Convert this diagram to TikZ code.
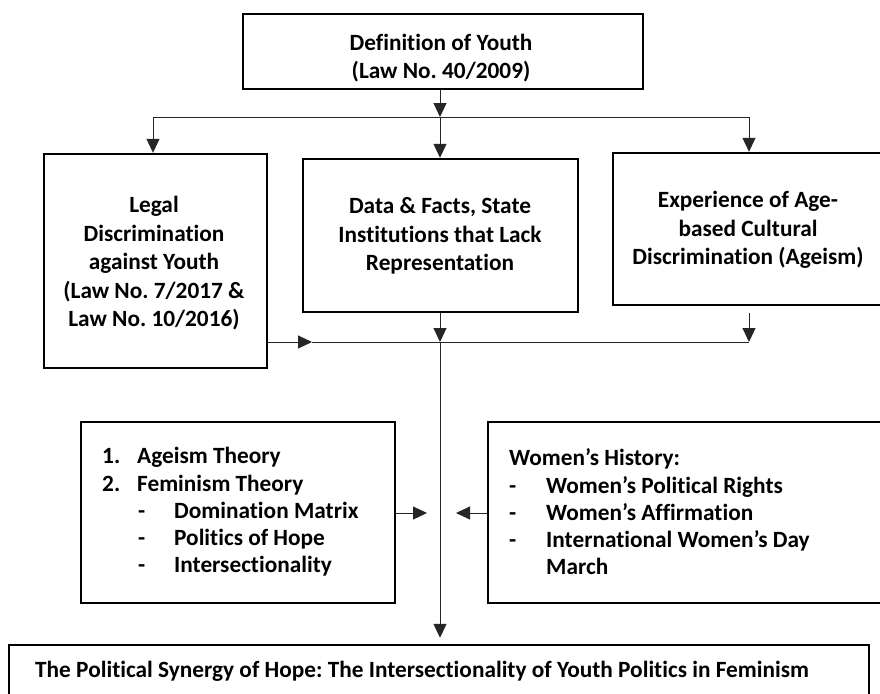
\documentclass[tikz,border=0pt]{standalone}
\usepackage{fontspec}
\setmainfont{Carlito}[Ligatures={TeX,NoCommon}]
\usetikzlibrary{arrows.meta}
\frenchspacing
\begin{document}
\begin{tikzpicture}[x=1pt,y=-1pt,
  box/.style={draw=black, line width=2.4pt, inner sep=0pt},
  txt/.style={font=\bfseries\fontsize{23.3}{28.5}\selectfont, align=center, inner sep=0pt},
  lst/.style={font=\bfseries\fontsize{23.3}{27.3}\selectfont, align=left, anchor=west, inner sep=0pt},
  conn/.style={draw=black!85, line width=1pt},
  arr/.style={conn, -{Triangle[length=14pt,width=13pt]}}]
\useasboundingbox (0,0) rectangle (880,693);
\clip (0,0) rectangle (880,693);
% boxes
\node[box, minimum width=400pt, minimum height=75pt] (top) at (443,51.5) {};
\node[box, minimum width=223pt, minimum height=214pt] (legal) at (155.5,261) {};
\node[box, minimum width=275pt, minimum height=153pt] (data) at (440.5,235.5) {};
\node[box, minimum width=271pt, minimum height=152pt] (exp) at (748.5,229) {};
\node[box, minimum width=314pt, minimum height=181pt] (theory) at (238,512.5) {};
\node[box, minimum width=404pt, minimum height=181pt] (women) at (690,512.5) {};
\node[box, minimum width=860pt, minimum height=75pt] (bottom) at (439,682.5) {};
% texts
\node[txt] (toptxt) at (441,58) {Definition of Youth\\(Law No. 40/2009)};
\node[txt] (legaltxt) at (154,263.5) {Legal\\Discrimination\\against Youth\\(Law No. 7/2017 \&\\Law No. 10/2016)};
\node[txt] (datatxt) at (440,236) {Data \& Facts, State\\Institutions that Lack\\Representation};
\node[txt] (exptxt) at (748,230) {Experience of Age-\\based Cultural\\Discrimination (Ageism)};
\node[lst] (theorytxt) at (102,512) {\makebox[35pt][l]{1.}Ageism Theory\\
\makebox[35pt][l]{2.}Feminism Theory\\
\hspace*{36pt}\makebox[36pt][l]{-}Domination Matrix\\
\hspace*{36pt}\makebox[36pt][l]{-}Politics of Hope\\
\hspace*{36pt}\makebox[36pt][l]{-}Intersectionality};
\node[lst] (womentxt) at (509,512) {Women’s History:\\
\makebox[37pt][l]{-}Women’s Political Rights\\
\makebox[37pt][l]{-}Women’s Affirmation\\
\makebox[37pt][l]{-}International Women’s Day\\
\hspace*{37pt}March};
\node[lst] (bottomtxt) at (35,671) {The Political Synergy of Hope: The Intersectionality of Youth Politics in Feminism};
% junctions
\coordinate (j1) at (440,117);
\coordinate (jl) at (153,117);
\coordinate (jr) at (749,117);
\coordinate (m) at (440,342);
\coordinate (ml) at (312,342);
\coordinate (mr) at (749,342);
\coordinate (tl) at (427,513);
\coordinate (tr) at (456,513);
% connectors
\draw[arr] (j1 |- top.south) -- (j1);
\draw[conn] (jl) -- (jr);
\draw[arr] (jl) -- (jl |- legal.north);
\draw[arr] (j1) -- (j1 |- data.north);
\draw[arr] (jr) -- (jr |- exp.north);
\draw[arr] (legal.east |- ml) -- (ml);
\draw[conn] (ml) -- (mr);
\draw[arr] (m |- data.south) -- (m);
\draw[arr, shorten <=7pt] (mr |- exp.south) -- (mr);
\draw[arr, shorten >=6pt] (m) -- (m |- bottom.north);
\draw[arr] (theory.east |- tl) -- (tl);
\draw[arr] (women.west |- tr) -- (tr);
\end{tikzpicture}
\end{document}
